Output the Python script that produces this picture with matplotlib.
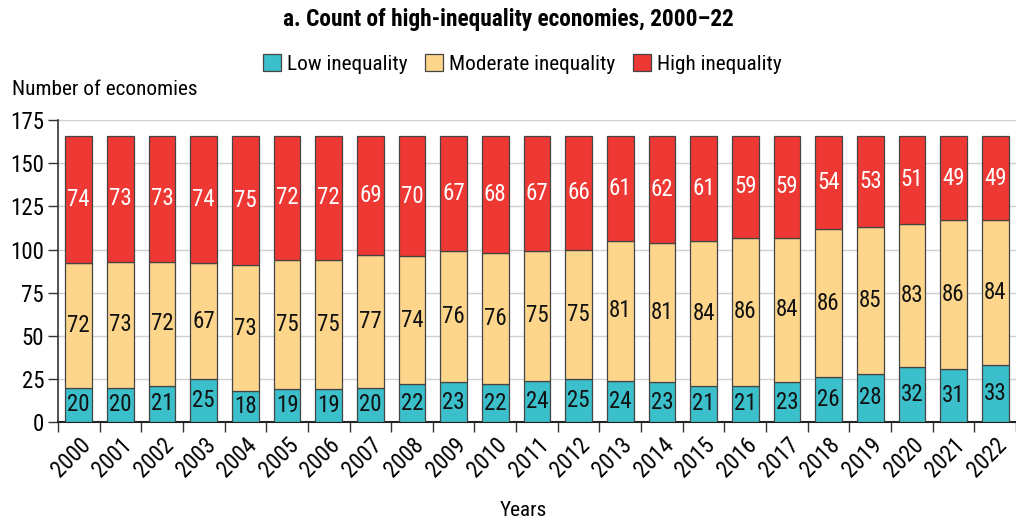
import numpy as np
import matplotlib.pyplot as plt
from matplotlib import font_manager

years = [str(y) for y in range(2000, 2023)]
low = [20, 20, 21, 25, 18, 19, 19, 20, 22, 23, 22, 24, 25, 24, 23, 21, 21, 23, 26, 28, 32, 31, 33]
moderate = [72, 73, 72, 67, 73, 75, 75, 77, 74, 76, 76, 75, 75, 81, 81, 84, 86, 84, 86, 85, 83, 86, 84]
high = [74, 73, 73, 74, 75, 72, 72, 69, 70, 67, 68, 67, 66, 61, 62, 61, 59, 59, 54, 53, 51, 49, 49]

# narrow fonts, closest to the condensed sans of the original
candidates = ['Roboto Condensed', 'Fira Sans Condensed', 'IBM Plex Sans Condensed',
              'Asap Condensed', 'Encode Sans Condensed', 'PT Sans Narrow',
              'Archivo Narrow', 'Liberation Sans Narrow']
weights = {}
for f in font_manager.fontManager.ttflist:
    w = f.weight if isinstance(f.weight, int) else (700 if f.weight == 'bold' else 400)
    weights.setdefault(f.name, set()).add(w)
reg = next((c for c in candidates if c in weights), 'Liberation Sans')
bold = next((c for c in candidates if c in weights and max(weights[c]) >= 700), reg)
plt.rcParams['font.family'] = [reg, 'DejaVu Sans']

c_low = '#3bbfca'
c_mod = '#fdd68b'
c_high = '#ee3833'

fig = plt.figure(figsize=(10.16, 5.22), dpi=100)
ax = fig.add_axes([0.057, 0.1916, 0.943, 0.578])

x = np.arange(len(years))
low = np.array(low)
moderate = np.array(moderate)
high = np.array(high)
w = 0.64
kw = dict(width=w, edgecolor='#444444', linewidth=0.9, zorder=3)
ax.bar(x, low, color=c_low, label='Low inequality', **kw)
ax.bar(x, moderate, bottom=low, color=c_mod, label='Moderate inequality', **kw)
ax.bar(x, high, bottom=low + moderate, color=c_high, label='High inequality', **kw)

fs = 16.5   # numbers
ft = 15.3   # words
for i in range(len(x)):
    ax.text(x[i], low[i] / 2, str(low[i]), ha='center', va='center', fontsize=fs, color='#111111', zorder=4)
    ax.text(x[i], low[i] + moderate[i] / 2, str(moderate[i]), ha='center', va='center', fontsize=fs, color='#111111', zorder=4)
    ax.text(x[i], low[i] + moderate[i] + high[i] / 2, str(high[i]), ha='center', va='center', fontsize=fs, color='white', zorder=4)

ax.set_ylim(0, 175)
ax.set_yticks(range(0, 176, 25))
ax.set_xlim(-0.5, 22.3)
ax.set_xticks(x)
ax.set_xticklabels(years, rotation=45, ha='right', rotation_mode='anchor', fontsize=fs)
ax.set_xticks(np.arange(-0.5, 22.6, 1), minor=True)
ax.tick_params(axis='x', which='major', length=0, pad=8)
ax.tick_params(axis='x', which='minor', length=7, width=1, color='#333333', direction='out')
ax.tick_params(axis='y', labelsize=fs, length=7, width=1, color='#333333', pad=3)
ax.grid(axis='y', color='#d0d0d0', linewidth=1, zorder=0)
for s in ['top', 'right']:
    ax.spines[s].set_visible(False)
ax.spines['left'].set_color('#333333')
ax.spines['bottom'].set_color('#222222')
ax.spines['left'].set_linewidth(1.2)
ax.spines['bottom'].set_linewidth(1.5)

fig.text(0.012, 0.828, 'Number of economies', fontsize=ft, ha='left', va='center')
fig.text(0.5, 0.962, 'a. Count of high-inequality economies, 2000\u201322', fontsize=16.8,
         fontweight='bold', family=[bold, 'DejaVu Sans'], ha='center', va='center')
fig.text(0.515, 0.022, 'Years', fontsize=ft, ha='center', va='center')
fig.legend(loc='center', bbox_to_anchor=(0.514, 0.877), ncol=3, frameon=False, fontsize=ft,
           handlelength=0.85, handleheight=0.85, handletextpad=0.3, columnspacing=0.8)

fig.savefig('out.png', dpi=100)
